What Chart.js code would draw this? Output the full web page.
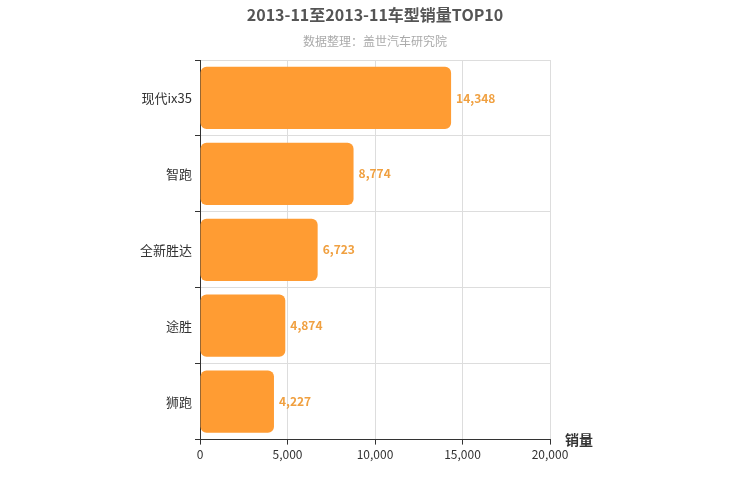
<!DOCTYPE html>
<html><head><meta charset="utf-8">
<script src="https://cdn.jsdelivr.net/npm/chart.js@4"></script>
<style>body{margin:0}#w{width:750px;height:500px}</style></head>
<body><div id="w"><canvas id="c"></canvas></div>
<script>
const categories=["现代ix35","智跑","全新胜达","途胜","狮跑"];
const sales=[14348,8774,6723,4874,4227];
const xTicks=[0,5000,10000,15000,20000];
const F="'Noto Sans CJK SC', sans-serif";
const labelPlugin={id:'lbl',afterDatasetsDraw(ch){const c=ch.ctx;const m=ch.getDatasetMeta(0);c.save();c.font="bold 12px "+F;c.fillStyle="#f0a040";c.textBaseline="middle";
m.data.forEach((b,i)=>{c.fillText(sales[i].toLocaleString('en-US'),b.x+5,b.y);});
c.fillStyle="#333";c.font="bold 14px "+F;c.fillText("销量",565,ch.chartArea.bottom);
c.textAlign="center";c.fillStyle="#555";c.font="bold 16px "+F;c.fillText("2013-11至2013-11车型销量TOP10",375,15);
c.fillStyle="#aaa";c.font="12px "+F;c.fillText("数据整理：盖世汽车研究院",375,41);c.restore();}};
new Chart(document.getElementById('c'),{type:'bar',
data:{labels:categories,datasets:[{data:sales,backgroundColor:'#ff9c33',borderRadius:6,borderSkipped:false,barPercentage:0.82,categoryPercentage:1}]},
options:{indexAxis:'y',responsive:true,maintainAspectRatio:false,animation:false,
layout:{padding:{left:0,right:200,top:60,bottom:35}},
plugins:{legend:{display:false},tooltip:{enabled:false}},
scales:{x:{min:0,max:20000,afterBuildTicks(a){a.ticks=xTicks.map(v=>({value:v}));},
ticks:{color:'#333',font:{size:12,family:F},callback:v=>v.toLocaleString('en-US')},
grid:{color:'#ddd',tickColor:'#333',tickLength:5},border:{color:'#333'}},
y:{afterFit(a){a.width=200;},ticks:{color:'#333',font:{size:13,family:F}},grid:{color:'#ddd',tickColor:'#333',tickLength:5,offset:true},border:{color:'#333'}}}},
plugins:[labelPlugin]});
</script></body></html>
